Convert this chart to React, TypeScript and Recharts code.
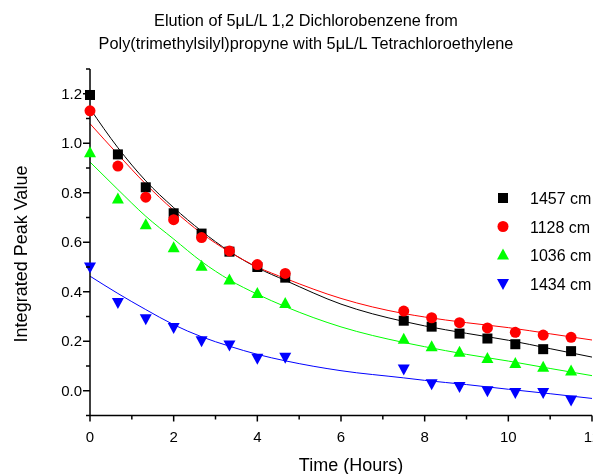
import React from "react";
import { ComposedChart, Customized, Line, Scatter, XAxis, YAxis } from "recharts";

const hours = [0, 0.667, 1.333, 2, 2.667, 3.333, 4, 4.667, 7.5, 8.167, 8.833, 9.5, 10.167, 10.833, 11.5];
const peak1457 = [1.195, 0.955, 0.822, 0.717, 0.635, 0.562, 0.5, 0.457, 0.283, 0.259, 0.231, 0.211, 0.188, 0.168, 0.16];
const peak1128 = [1.131, 0.908, 0.782, 0.691, 0.619, 0.565, 0.51, 0.474, 0.322, 0.295, 0.275, 0.254, 0.236, 0.225, 0.216];
const peak1036 = [0.962, 0.775, 0.671, 0.578, 0.503, 0.447, 0.393, 0.353, 0.208, 0.178, 0.156, 0.13, 0.11, 0.095, 0.08];
const peak1434 = [0.5, 0.357, 0.291, 0.256, 0.202, 0.185, 0.131, 0.135, 0.088, 0.028, 0.017, 0.0, -0.007, -0.007, -0.037];

// fitted decay curves
const fitHours = [0, 0.667, 1.333, 2, 2.667, 3.333, 4, 4.667, 6, 7.5, 8, 9, 10, 11, 12];
const fit1457 = [1.14, 0.982, 0.848, 0.74, 0.645, 0.563, 0.497, 0.446, 0.35, 0.28, 0.262, 0.232, 0.204, 0.17, 0.136];
const fit1128 = [1.079, 0.955, 0.835, 0.729, 0.636, 0.561, 0.5, 0.454, 0.373, 0.312, 0.298, 0.275, 0.255, 0.23, 0.205];
const fit1036 = [0.924, 0.813, 0.705, 0.613, 0.522, 0.448, 0.39, 0.34, 0.258, 0.195, 0.178, 0.147, 0.12, 0.09, 0.061];
const fit1434 = [0.463, 0.393, 0.328, 0.267, 0.218, 0.18, 0.147, 0.121, 0.081, 0.052, 0.042, 0.025, 0.006, -0.012, -0.031];

const xTicks = [0, 1, 2, 3, 4, 5, 6, 7, 8, 9, 10, 11, 12];
const yTicks = [-0.1, 0, 0.1, 0.2, 0.3, 0.4, 0.5, 0.6, 0.7, 0.8, 0.9, 1.0, 1.1, 1.2, 1.3];

const FONT = "'Liberation Sans', Arial, sans-serif";

const pts = (xs, ys) => xs.map((x, i) => ({ x, y: ys[i] }));

const series = [
  { name: "1457 cm", color: "#000000", shape: "square", points: peak1457, fit: fit1457 },
  { name: "1128 cm", color: "#ff0000", shape: "circle", points: peak1128, fit: fit1128 },
  { name: "1036 cm", color: "#00ff00", shape: "up", points: peak1036, fit: fit1036 },
  { name: "1434 cm", color: "#0000ff", shape: "down", points: peak1434, fit: fit1434 },
];

const Marker = ({ kind, cx, cy, color }) => {
  if (kind === "square") return <rect x={cx - 5} y={cy - 5} width={10} height={10} fill={color} />;
  if (kind === "circle") return <circle cx={cx} cy={cy} r={5.5} fill={color} />;
  if (kind === "up")
    return <polygon points={`${cx},${cy - 6.5} ${cx + 6},${cy + 4.5} ${cx - 6},${cy + 4.5}`} fill={color} />;
  return <polygon points={`${cx},${cy + 6.5} ${cx + 6},${cy - 4.5} ${cx - 6},${cy - 4.5}`} fill={color} />;
};

const XTick = ({ x, y, payload }) => {
  const major = payload.value % 2 === 0;
  return (
    <g>
      <line x1={x} x2={x} y1={y} y2={y + (major ? 6 : 4)} stroke="#000" strokeWidth={1.5} />
      {major && (
        <text x={x} y={y + 26} textAnchor="middle" fontSize={15} fontFamily={FONT} fill="#000">
          {payload.value}
        </text>
      )}
    </g>
  );
};

const YTick = ({ x, y, payload }) => {
  const k = Math.round(payload.value * 10);
  const major = k % 2 === 0 && k >= 0 && k <= 12;
  return (
    <g>
      <line x1={x} x2={x - (major ? 7 : 4)} y1={y} y2={y} stroke="#000" strokeWidth={1.5} />
      {major && (
        <text x={x - 8} y={y + 5} textAnchor="end" fontSize={15} fontFamily={FONT} fill="#000">
          {(k / 10).toFixed(1)}
        </text>
      )}
    </g>
  );
};

// legend and titles drawn in the svg so they do not take plot space
const Texts = () => (
  <g fontFamily={FONT} fill="#000">
    <text x={298} y={18} textAnchor="middle" fontSize={16.3}>
      Elution of 5μL/L 1,2 Dichlorobenzene from
    </text>
    <text x={298} y={41} textAnchor="middle" fontSize={16.3}>
      Poly(trimethylsilyl)propyne with 5μL/L Tetrachloroethylene
    </text>
    <text x={343} y={463} textAnchor="middle" fontSize={18}>
      Time (Hours)
    </text>
    <text x={19} y={246} textAnchor="middle" fontSize={18} transform="rotate(-90 19 246)">
      Integrated Peak Value
    </text>
    {series.map((s, i) => (
      <g key={s.name}>
        <Marker kind={s.shape} cx={495} cy={190 + i * 28.5} color={s.color} />
        <text x={522} y={190 + i * 28.5 + 6} fontSize={16}>
          {s.name}
        </text>
      </g>
    ))}
  </g>
);

export default function App() {
  // fixed so the 466px chart plus body margin does not add a scrollbar
  return (
    <div style={{ position: "fixed", top: 8, left: 8, width: 585, height: 466 }}>
      <ComposedChart width={585} height={466} margin={{ top: 61, right: 1, bottom: 0, left: 0 }}>
        <XAxis
          type="number"
          dataKey="x"
          domain={[0, 12]}
          ticks={xTicks}
          interval={0}
          height={58.5}
          tickSize={0}
          tickMargin={0}
          tickLine={false}
          tick={XTick}
          axisLine={{ stroke: "#000", strokeWidth: 1.5 }}
        />
        <YAxis
          type="number"
          dataKey="y"
          domain={[-0.1, 1.3]}
          ticks={yTicks}
          interval={0}
          width={82}
          tickSize={0}
          tickMargin={0}
          tickLine={false}
          tick={YTick}
          axisLine={{ stroke: "#000", strokeWidth: 1.5 }}
        />
        {series.map((s) => (
          <Line
            key={`fit-${s.name}`}
            data={pts(fitHours, s.fit)}
            dataKey="y"
            type="monotone"
            stroke={s.color}
            strokeWidth={1}
            dot={false}
            activeDot={false}
            legendType="none"
            isAnimationActive={false}
          />
        ))}
        {series.map((s) => (
          <Scatter
            key={s.name}
            name={s.name}
            data={pts(hours, s.points)}
            dataKey="y"
            fill={s.color}
            shape={(p) => <Marker kind={s.shape} cx={p.cx} cy={p.cy} color={s.color} />}
            isAnimationActive={false}
          />
        ))}
        <Customized component={Texts} />
      </ComposedChart>
    </div>
  );
}
